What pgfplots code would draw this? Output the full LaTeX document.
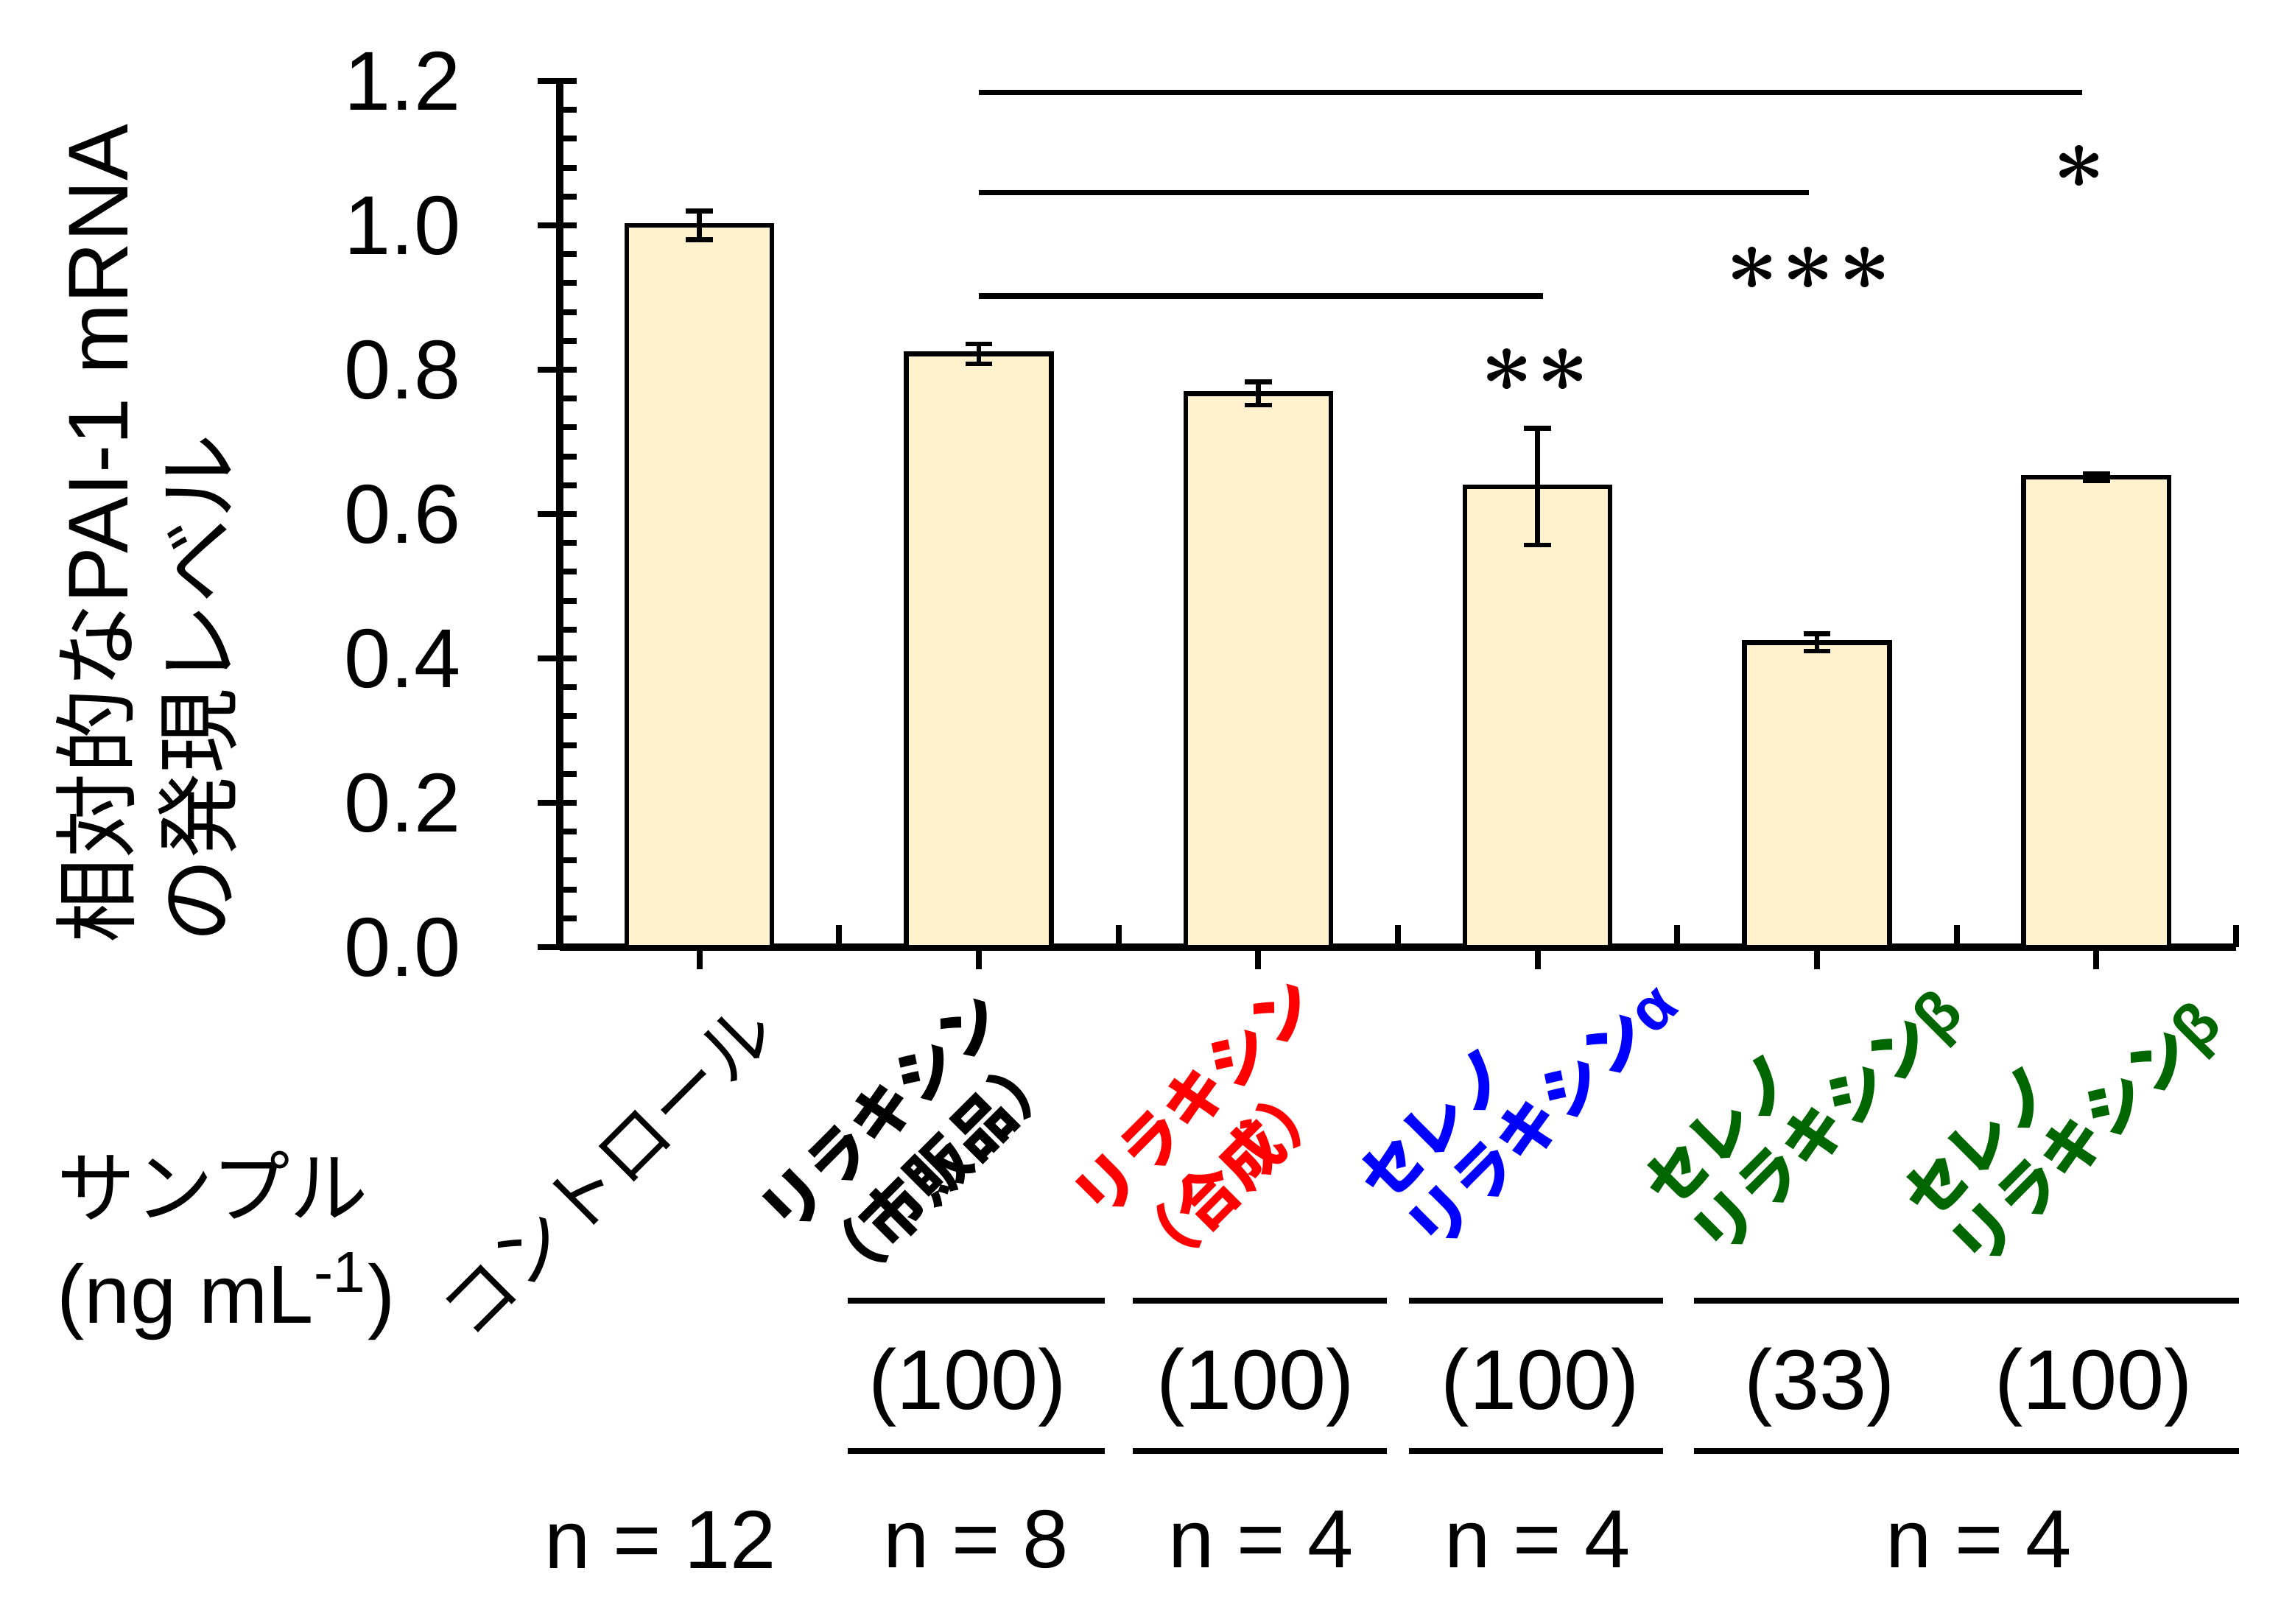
\documentclass[border=0pt]{standalone}
\usepackage{fontspec}
\setmainfont{Liberation Sans}
\newfontfamily\jp{Noto Sans CJK JP}
\newfontfamily\lmr{lmroman10-bold.otf}
\usepackage{pgfplots}
\pgfplotsset{compat=1.18}
\definecolor{barfill}{HTML}{FFF2CC}
\definecolor{sgreen}{HTML}{006600}
\tikzset{lbl/.style={rotate=45, anchor=base west, inner sep=0pt}}

\begin{document}
\begin{tikzpicture}
\path[use as bounding box] (-95pt,-114.75pt) rectangle (294.5pt,160.75pt);
\begin{axis}[
    width=284.5pt, height=147pt, scale only axis,
    xmin=-0.5, xmax=5.5, ymin=0, ymax=1.2,
    axis lines=left,
    axis line style={-, line width=1.2pt},
    clip=false,
    tick align=outside,
    major tick length=3.8pt,
    tick style={black, line width=1pt},
    xtick={0,...,5}, xticklabels={},
    extra x ticks={0.5,1.5,2.5,3.5,4.5,5.5},
    extra x tick labels={},
    extra x tick style={tick align=inside},
    ytick={0,0.2,...,1.2},
    extra y ticks={0,0.04,...,1.2},
    extra y tick labels={},
    extra y tick style={tick align=inside, major tick length=2.9pt},
    /pgf/number format/fixed,
    /pgf/number format/fixed zerofill,
    /pgf/number format/precision=1,
    /pgf/number format/assume math mode=true,
    yticklabel style={font=\fontsize{14.2}{17}\selectfont, xshift=-9.5pt},
]

\addplot[ybar, bar width=0.52, fill=barfill, draw=black, line width=0.8pt,
    error bars/.cd, y dir=both, y explicit,
    error bar style={line width=0.8pt, black},
    error mark options={rotate=90, line width=0.8pt, mark size=2.3pt, black}]
coordinates {
    (0,1.000) +- (0,0.020)
    (1,0.822) +- (0,0.014)
    (2,0.767) +- (0,0.016)
    (3,0.638) +- (0,0.081)
    (4,0.422) +- (0,0.012)
    (5,0.651) +- (0,0.005)
};

% significance brackets
\draw[line width=0.9pt] (axis cs:1,0.902) -- (axis cs:3.02,0.902);
\draw[line width=0.9pt] (axis cs:1,1.045) -- (axis cs:3.97,1.045);
\draw[line width=0.9pt] (axis cs:1,1.184) -- (axis cs:4.95,1.184);
\node[anchor=base, inner sep=0pt] at ([yshift=-8.3pt]axis cs:2.99,0.802) {\lmr\fontsize{15.5}{18}\selectfont *\kern0.6pt*};
\node[anchor=base, inner sep=0pt] at ([yshift=-8.3pt]axis cs:3.97,0.943) {\lmr\fontsize{15.5}{18}\selectfont *\kern0.6pt*\kern0.6pt*};
\node[anchor=base, inner sep=0pt] at ([yshift=-8.3pt]axis cs:4.94,1.084) {\lmr\fontsize{15.5}{18}\selectfont *};

% y label
\node[rotate=90, anchor=base west, inner sep=0pt] at ([shift={(-73.25pt,0.5pt)}]axis cs:-0.5,0)
    {\fontsize{14.4}{17}\selectfont{\jp 相対的な}PAI-1 mRNA};
\node[rotate=90, anchor=base west, inner sep=0pt] at ([shift={(-56pt,0.5pt)}]axis cs:-0.5,0)
    {\jp\fontsize{14.4}{17}\selectfont の発現レベル};

% category labels
\node[lbl] at ([shift={(-38.6pt,-67.3pt)}]axis cs:0,0)
    {\jp\fontsize{12.3}{15}\selectfont コントロール};
\node[lbl] at ([shift={(-32.4pt,-49.6pt)}]axis cs:1,0)
    {\jp\bfseries\fontsize{10.5}{13}\selectfont リラキシン};
\node[lbl] at ([shift={(-22.85pt,-59.15pt)}]axis cs:1,0)
    {\jp\bfseries\fontsize{10.5}{13}\selectfont （市販品）};
\node[lbl, text=red] at ([shift={(-26.7pt,-47.1pt)}]axis cs:2,0)
    {\jp\bfseries\fontsize{10.5}{13}\selectfont リラキシン};
\node[lbl, text=red] at ([shift={(-17.15pt,-56.65pt)}]axis cs:2,0)
    {\jp\bfseries\fontsize{10.5}{13}\selectfont （合成）};
\node[lbl, text=blue] at ([shift={(-25.9pt,-44.1pt)}]axis cs:3,0)
    {\jp\bfseries\fontsize{10.5}{13}\selectfont セレノ};
\node[lbl, text=blue] at ([shift={(-17.59pt,-52.41pt)}]axis cs:3,0)
    {\jp\bfseries\fontsize{10.5}{13}\selectfont リラキシン{\normalfont\bfseries α}};
\node[lbl, text=sgreen] at ([shift={(-24.9pt,-45.1pt)}]axis cs:4,0)
    {\jp\bfseries\fontsize{10.5}{13}\selectfont セレノ};
\node[lbl, text=sgreen] at ([shift={(-16.59pt,-53.41pt)}]axis cs:4,0)
    {\jp\bfseries\fontsize{10.5}{13}\selectfont リラキシン{\normalfont\bfseries β}};
\node[lbl, text=sgreen] at ([shift={(-28.4pt,-47.1pt)}]axis cs:5,0)
    {\jp\bfseries\fontsize{10.5}{13}\selectfont セレノ};
\node[lbl, text=sgreen] at ([shift={(-20.09pt,-55.41pt)}]axis cs:5,0)
    {\jp\bfseries\fontsize{10.5}{13}\selectfont リラキシン{\normalfont\bfseries β}};

% sample table
\node[anchor=west, inner sep=0pt] at ([shift={(-85.5pt,-40.5pt)}]axis cs:-0.5,0)
    {\jp\fontsize{13.3}{16}\selectfont サンプル};
\node[anchor=west, inner sep=0pt] at ([shift={(-85.5pt,-59.25pt)}]axis cs:-0.5,0)
    {\fontsize{14}{17}\selectfont (ng mL\textsuperscript{-1})};

\draw[line width=0.9pt] ([yshift=-60pt]axis cs:0.53,0) -- ([yshift=-60pt]axis cs:1.45,0);
\draw[line width=0.9pt] ([yshift=-60pt]axis cs:1.55,0) -- ([yshift=-60pt]axis cs:2.46,0);
\draw[line width=0.9pt] ([yshift=-60pt]axis cs:2.54,0) -- ([yshift=-60pt]axis cs:3.45,0);
\draw[line width=0.9pt] ([yshift=-60pt]axis cs:3.56,0) -- ([yshift=-60pt]axis cs:5.51,0);
\draw[line width=0.9pt] ([yshift=-85.5pt]axis cs:0.53,0) -- ([yshift=-85.5pt]axis cs:1.45,0);
\draw[line width=0.9pt] ([yshift=-85.5pt]axis cs:1.55,0) -- ([yshift=-85.5pt]axis cs:2.46,0);
\draw[line width=0.9pt] ([yshift=-85.5pt]axis cs:2.54,0) -- ([yshift=-85.5pt]axis cs:3.45,0);
\draw[line width=0.9pt] ([yshift=-85.5pt]axis cs:3.56,0) -- ([yshift=-85.5pt]axis cs:5.51,0);

\node[inner sep=0pt] at ([yshift=-74.75pt]axis cs:0.96,0) {\fontsize{14.4}{17}\selectfont (100)};
\node[inner sep=0pt] at ([yshift=-74.75pt]axis cs:1.99,0) {\fontsize{14.4}{17}\selectfont (100)};
\node[inner sep=0pt] at ([yshift=-74.75pt]axis cs:3.01,0) {\fontsize{14.4}{17}\selectfont (100)};
\node[inner sep=0pt] at ([yshift=-74.75pt]axis cs:4.01,0) {\fontsize{14.4}{17}\selectfont (33)};
\node[inner sep=0pt] at ([yshift=-74.75pt]axis cs:4.99,0) {\fontsize{14.4}{17}\selectfont (100)};

\node[inner sep=0pt] at ([yshift=-100.5pt]axis cs:-0.14,0) {\fontsize{14}{17}\selectfont n = 12};
\node[inner sep=0pt] at ([yshift=-100.5pt]axis cs:0.99,0) {\fontsize{14}{17}\selectfont n = 8};
\node[inner sep=0pt] at ([yshift=-100.5pt]axis cs:2.01,0) {\fontsize{14}{17}\selectfont n = 4};
\node[inner sep=0pt] at ([yshift=-100.5pt]axis cs:3.0,0) {\fontsize{14}{17}\selectfont n = 4};
\node[inner sep=0pt] at ([yshift=-100.5pt]axis cs:4.58,0) {\fontsize{14}{17}\selectfont n = 4};
\end{axis}
\end{tikzpicture}
\end{document}
